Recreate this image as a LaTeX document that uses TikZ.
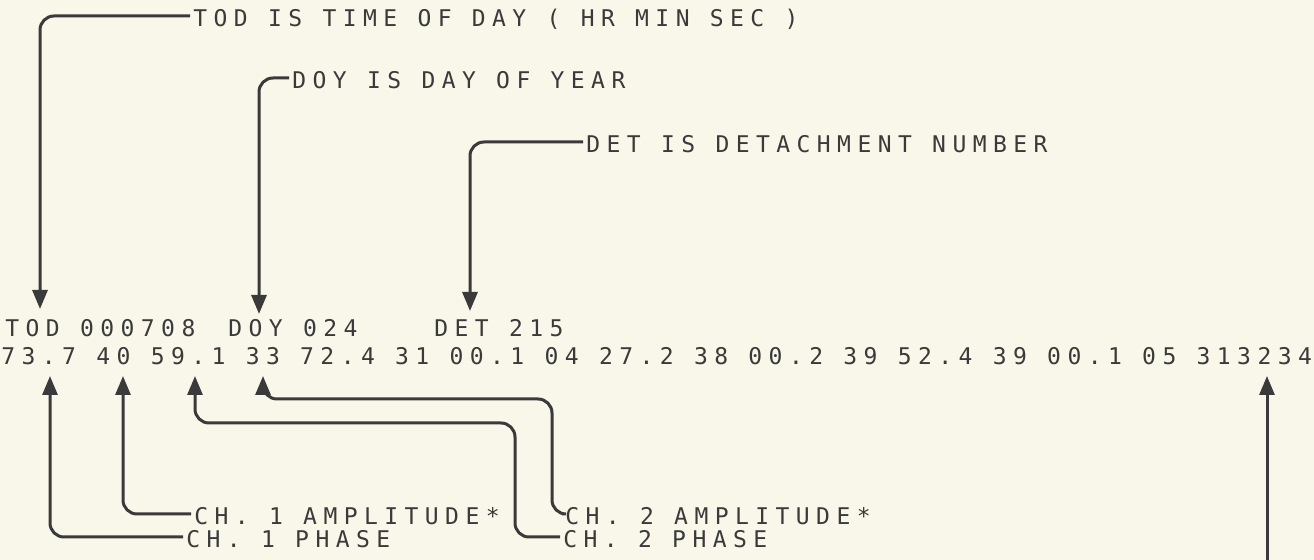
\documentclass[tikz,border=0pt]{standalone}
\usepackage{fontspec}
\setmonofont[LetterSpace=28]{DejaVu Sans Mono}
\usetikzlibrary{arrows.meta}
\definecolor{paper}{RGB}{248,247,233}
\definecolor{ink}{RGB}{58,58,58}
\begin{document}
\begin{tikzpicture}[x=0.5pt,y=-0.5pt,
  prt/.style={font=\ttfamily\fontsize{11.5pt}{13pt}\selectfont, text=ink,
    text height=10.4pt, text depth=0pt, inner ysep=0pt, anchor=west},
  lbl/.style={prt, inner xsep=1.5pt},
  dat/.style={prt, inner xsep=0pt},
  arr/.style={draw=ink, line width=1.5pt, rounded corners=7pt,
    -{Triangle[length=9.5pt,width=7.5pt]}}]
\useasboundingbox (0,0) rectangle (1314,560);
\fill[paper] (0,0) rectangle (1314,560);

% top labels
\node[lbl] (lTOD) at (190,16) {TOD IS TIME OF DAY ( HR MIN SEC )};
\node[lbl] (lDOY) at (289,78) {DOY IS DAY OF YEAR};
\node[lbl] (lDET) at (583,142) {DET IS DETACHMENT NUMBER};

% data lines
\node[dat] (d1a) at (5,326) {TOD 000708};
\node[dat] (d1b) at (228,326) {DOY 024};
\node[dat] (d1c) at (434,326) {DET 215};
\node[dat] (d2) at (1,354) {73.7 40 59.1 33 72.4 31 00.1 04 27.2 38 00.2 39 52.4 39 00.1 05 313234};

% bottom labels
\node[lbl] (lC1A) at (191,514) {CH. 1 AMPLITUDE*};
\node[lbl] (lC1P) at (183,537) {CH. 1 PHASE};
\node[lbl] (lC2A) at (562,514) {CH. 2 AMPLITUDE*};
\node[lbl] (lC2P) at (560,537) {CH. 2 PHASE};

% arrow tips
\coordinate (tTOD) at (40,309);
\coordinate (tDOY) at (259,314);
\coordinate (tDET) at (470,311);
\coordinate (tC1P) at (50,376);
\coordinate (tC1A) at (123,376);
\coordinate (tC2P) at (195,376);
\coordinate (tC2A) at (263,376);
\coordinate (tR) at (1267,376);
\coordinate (bR) at (1267,560);

% connectors
\draw[arr] (lTOD.west) -| (tTOD);
\draw[arr] (lDOY.west) -| (tDOY);
\draw[arr] (lDET.west) -| (tDET);
\draw[arr] (lC1P.west) -| (tC1P);
\draw[arr] (lC1A.west) -| (tC1A);
\draw[arr] (lC2P.west) -| (515,423) -| (tC2P);
\draw[arr] (lC2A.west) -| (552,399) -| (tC2A);
\draw[arr] (bR) -- (tR);
\end{tikzpicture}
\end{document}
